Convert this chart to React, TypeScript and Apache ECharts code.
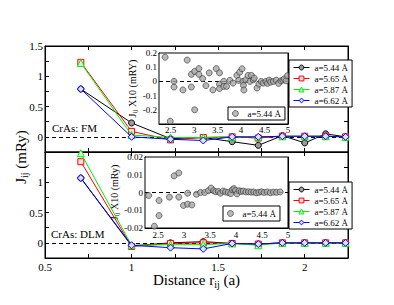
import React, { useEffect, useRef } from "react";
import * as echarts from "echarts";

const FONT = "Liberation Serif, Times New Roman, serif";

// ---- data ----
const distances = [0.707, 1.0, 1.225, 1.414, 1.581, 1.732, 1.871, 2.0, 2.121, 2.236];

const fm544 = [0.79, 0.23, -0.03, -0.01, -0.08, -0.14, 0.02, -0.1, 0.05, 0.0];
const fm565 = [1.23, 0.09, -0.05, -0.01, 0.0, -0.02, 0.01, 0.01, 0.01, 0.0];
const fm587 = [1.22, 0.03, -0.01, -0.01, 0.0, 0.0, 0.01, 0.01, 0.01, 0.0];
const fm662 = [0.79, 0.0, -0.04, -0.06, 0.0, 0.0, 0.01, 0.01, 0.01, 0.0];

const dlm544 = [1.07, -0.05, 0.0, 0.02, -0.01, -0.02, 0.0, 0.0, 0.0, 0.0];
const dlm565 = [1.34, -0.06, -0.01, 0.0, -0.01, -0.02, 0.0, 0.0, 0.0, 0.0];
const dlm587 = [1.48, -0.04, -0.03, -0.03, -0.01, -0.04, 0.0, 0.0, 0.0, 0.0];
const dlm662 = [1.07, -0.04, -0.08, -0.1, -0.01, -0.02, 0.0, 0.0, 0.0, 0.0];

const seriesLabels = ["a=5.44 Å", "a=5.65 Å", "a=5.87 Å", "a=6.62 Å"];
const insetLabel = "a=5.44 Å";

const insFmX = [2.38, 2.49, 2.57, 2.57, 2.76, 2.85, 2.94, 2.94, 3.01, 3.01, 3.1, 3.1, 3.18, 3.25, 3.32, 3.4, 3.47, 3.54, 3.54, 3.54, 3.63, 3.63, 3.69, 3.76, 3.83, 3.91, 3.95, 3.97, 4.02, 4.04, 4.05, 4.06, 4.1, 4.15, 4.19, 4.22, 4.26, 4.28, 4.34, 4.38, 4.43, 4.47, 4.53, 4.56, 4.6, 4.63, 4.69, 4.75, 4.8, 4.85, 4.89, 4.92, 4.96, 4.99];
const insFmY = [0.17, -0.28, 0.0, -0.04, -0.06, 0.15, 0.05, -0.04, 0.07, -0.2, 0.09, 0.05, 0.02, -0.03, 0.06, -0.06, 0.09, 0.06, -0.02, -0.05, 0.0, -0.035, -0.035, 0.007, -0.012, 0.042, 0.007, 0.065, 0.089, 0.0, -0.028, -0.061, 0.011, 0.042, 0.0, 0.042, 0.011, 0.023, -0.047, -0.019, 0.0, -0.012, 0.0, -0.014, 0.009, -0.005, 0.0, 0.009, -0.014, 0.004, 0.009, 0.018, 0.004, 0.04];

const insDlmX = [2.32, 2.43, 2.52, 2.52, 2.72, 2.81, 2.9, 2.9, 2.99, 3.07, 3.07, 3.15, 3.24, 3.32, 3.4, 3.47, 3.52, 3.57, 3.61, 3.66, 3.7, 3.75, 3.8, 3.85, 3.9, 3.93, 3.96, 3.99, 4.02, 4.06, 4.1, 4.14, 4.19, 4.24, 4.29, 4.34, 4.39, 4.44, 4.49, 4.54, 4.6, 4.66, 4.72, 4.78, 4.85];
const insDlmY = [-0.0017, -0.019, -0.0045, -0.013, -0.0026, 0.0094, 0.011, -0.0026, -0.0073, -0.0004, -0.0066, -0.007, -0.001, 0.0, 0.0, 0.001, 0.0025, 0.001, 0.0004, 0.0006, -0.0004, 0.0008, 0.0003, 0.0, -0.0006, 0.0016, 0.0022, 0.0012, -0.0008, 0.001, 0.0006, 0.0008, 0.0003, 0.0004, 0.0002, 0.0003, -0.0002, 0.0001, 0.0004, 0.0, 0.0003, -0.0001, 0.0002, 0.0001, 0.0003];

// ---- styles ----
const strokes = ["#000000", "#ff0000", "#00ee00", "#0000ff"];
const fills = ["#9a9a9a", "#ffe0e0", "#e0ffe0", "#e0e0ff"];
const symbols = ["circle", "rect", "triangle", "diamond"];
const symbolSizes = [6, 6, 7, 7];
const insetFill = "#a8a8a8";
const insetStroke = "#333333";

const isMult = (v: number, s: number) => Math.abs(v / s - Math.round(v / s)) < 1e-6;
const fmt = (v: number) => String(parseFloat(v.toFixed(3)));

function axis(kind: "x" | "y", o: any) {
  return {
    type: "value",
    gridIndex: o.grid,
    min: o.min,
    max: o.max,
    interval: o.interval,
    position: o.position,
    show: o.show === undefined ? true : o.show,
    axisLine: { show: o.line !== false, onZero: false, lineStyle: { color: "#000", width: 1 } },
    axisTick: { show: o.line !== false, inside: true, length: o.tickLen || 4, lineStyle: { color: "#000", width: 1 } },
    minorTick: o.minor
      ? { show: true, splitNumber: o.minor, length: 2, lineStyle: { color: "#000", width: 1 } }
      : { show: false },
    splitLine: { show: false },
    axisLabel: {
      show: !!o.formatter,
      formatter: o.formatter,
      fontSize: o.fontSize || 11,
      fontFamily: FONT,
      color: "#000",
      margin: o.margin === undefined ? 2 : o.margin,
      showMinLabel: true,
      showMaxLabel: true,
      hideOverlap: false,
    },
    name: o.name,
    nameLocation: "middle",
    nameGap: o.nameGap,
    nameRotate: kind === "y" ? 90 : 0,
    nameTextStyle: o.nameStyle,
  };
}

function richName(big: number, small: number, lh: number) {
  return {
    fontFamily: FONT,
    fontSize: big,
    color: "#000",
    rich: {
      a: { fontFamily: FONT, fontSize: big, color: "#000", lineHeight: lh },
      b: { fontFamily: FONT, fontSize: small, color: "#000", verticalAlign: "bottom" },
    },
  };
}

function buildOption() {
  const mainX = (v: number) => (isMult(v, 0.5) ? fmt(v) : "");
  const mainYTop = (v: number) => (isMult(v, 0.5) && v > -1e-9 ? fmt(v) : "");
  const mainYBot = (v: number) => (isMult(v, 0.5) && v > -1e-9 && v < 1.4 ? fmt(v) : "");
  const insX = (v: number) => (isMult(v, 0.5) ? fmt(v) : "");
  const insFmYF = (v: number) => (v < -0.25 ? "" : fmt(v));
  const insDlmYF = (v: number) => fmt(v);

  const mainXR = { min: 0.5, max: 2.25, interval: 0.25 };
  const mainYR = { min: -0.25, max: 1.5, interval: 0.25 };
  const insXR = { min: 2.25, max: 5, interval: 0.25 };
  const insFmYR = { min: -0.3, max: 0.2, interval: 0.1 };
  const insDlmYR = { min: -0.02, max: 0.02, interval: 0.01 };

  const grids = [
    { left: 45, top: 46, width: 303, height: 106 },
    { left: 45, top: 152, width: 303, height: 106 },
    { left: 159, top: 53, width: 129, height: 71 },
    { left: 145, top: 157, width: 143, height: 71 },
    { left: 45, top: 56, width: 10, height: 202 },
  ].map((g, i) => ({
    ...g,
    show: i < 4,
    borderColor: "#000",
    borderWidth: 1,
    backgroundColor: i < 4 ? "#fff" : "transparent",
    containLabel: false,
    outerBoundsMode: "none",
    z: i >= 2 ? 5 : 0,
  }));

  const xAxis = [
    axis("x", { grid: 0, ...mainXR, position: "bottom" }),
    axis("x", { grid: 0, ...mainXR, position: "top" }),
    axis("x", {
      grid: 1, ...mainXR, position: "bottom", formatter: mainX, margin: 3,
      name: "{a|Distance r}{b|ij}{a| (a)}", nameGap: 12, nameStyle: richName(15, 10, 18),
    }),
    axis("x", { grid: 1, ...mainXR, position: "top" }),
    axis("x", { grid: 2, ...insXR, position: "bottom", formatter: insX, fontSize: 9, tickLen: 3, margin: 1 }),
    axis("x", { grid: 2, ...insXR, position: "top", tickLen: 3 }),
    axis("x", { grid: 3, ...insXR, position: "bottom", formatter: insX, fontSize: 9, tickLen: 3, margin: 2 }),
    axis("x", { grid: 3, ...insXR, position: "top", tickLen: 3 }),
    axis("x", { grid: 4, min: 0, max: 1, show: false }),
  ];
  const yAxis = [
    axis("y", { grid: 0, ...mainYR, position: "left", formatter: mainYTop }),
    axis("y", { grid: 0, ...mainYR, position: "right" }),
    axis("y", { grid: 1, ...mainYR, position: "left", formatter: mainYBot }),
    axis("y", { grid: 1, ...mainYR, position: "right" }),
    axis("y", {
      grid: 2, ...insFmYR, position: "left", formatter: insFmYF, fontSize: 9, tickLen: 3, minor: 2,
      name: "{a|J}{b|ij}{a| X10 (mRY)}", nameGap: 17, nameStyle: richName(10, 7, 12),
    }),
    axis("y", { grid: 2, ...insFmYR, position: "right", tickLen: 3, minor: 2 }),
    axis("y", {
      grid: 3, ...insDlmYR, position: "left", formatter: insDlmYF, fontSize: 9, tickLen: 3, minor: 2,
      name: "{a|J}{b|ij}{a| X10 (mRy)}", nameGap: 9, nameStyle: richName(10, 7, 12),
    }),
    axis("y", { grid: 3, ...insDlmYR, position: "right", tickLen: 3, minor: 2 }),
    axis("y", {
      grid: 4, min: 0, max: 1, position: "left", line: false,
      name: "{a|J}{b|ij}{a| (mRy)}", nameGap: 16, nameStyle: richName(15, 10, 17),
    }),
  ];

  const zeroLine = (z: number) => ({
    silent: true,
    symbol: ["none", "none"],
    label: { show: false },
    lineStyle: { color: "#000", type: [4, 3], width: 1 },
    data: [{ yAxis: 0 }],
    z,
  });

  const series: any[] = [];
  const fmSets = [fm544, fm565, fm587, fm662];
  const dlmSets = [dlm544, dlm565, dlm587, dlm662];
  const nameMap: Record<string, string> = { insFM: insetLabel, insDLM: insetLabel };
  [fmSets, dlmSets].forEach((sets, panel) => {
    sets.forEach((arr, i) => {
      const name = (panel === 0 ? "fm" : "dlm") + i;
      nameMap[name] = seriesLabels[i];
      series.push({
        type: "line",
        name,
        xAxisIndex: panel * 2,
        yAxisIndex: panel * 2,
        data: distances.map((x, k) => [x, arr[k]]),
        symbol: symbols[i],
        symbolSize: symbolSizes[i],
        showSymbol: true,
        showAllSymbol: true,
        clip: false,
        z: 3 + i,
        lineStyle: { color: strokes[i], width: 1 },
        itemStyle: { color: fills[i], borderColor: strokes[i], borderWidth: 1 },
        emphasis: { disabled: true },
        markLine: i === 0 ? zeroLine(2) : undefined,
      });
    });
  });
  const insetItemStyle = { color: insetFill, borderColor: insetStroke, borderWidth: 0.8 };
  series.push({
    type: "scatter",
    name: "insFM",
    xAxisIndex: 4,
    yAxisIndex: 4,
    data: insFmX.map((x, k) => [x, insFmY[k]]),
    symbol: "circle",
    symbolSize: 6,
    z: 8,
    itemStyle: insetItemStyle,
    emphasis: { disabled: true },
    markLine: zeroLine(7),
  });
  series.push({
    type: "scatter",
    name: "insDLM",
    xAxisIndex: 6,
    yAxisIndex: 6,
    data: insDlmX.map((x, k) => [x, insDlmY[k]]),
    symbol: "circle",
    symbolSize: 6,
    z: 8,
    itemStyle: insetItemStyle,
    emphasis: { disabled: true },
    markLine: zeroLine(7),
  });

  const legendBase = {
    orient: "vertical",
    selectedMode: false,
    backgroundColor: "#fff",
    borderColor: "#000",
    borderWidth: 1,
    borderRadius: 0,
    textStyle: { fontFamily: FONT, fontSize: 9, color: "#000" },
    formatter: (n: string) => nameMap[n],
    itemGap: 2,
    itemWidth: 16,
    itemHeight: 6,
    z: 10,
  };
  const mainLegendData = (prefix: string) =>
    [0, 1, 2, 3].map((i) => ({
      name: prefix + i,
      itemStyle: { color: fills[i], borderColor: strokes[i], borderWidth: 1 },
      lineStyle: { color: strokes[i], width: 1 },
    }));
  const insetLegendData = (name: string) => [
    { name, icon: "circle", itemStyle: { color: insetFill, borderColor: insetStroke, borderWidth: 0.8 } },
  ];

  return {
    animation: false,
    backgroundColor: "#fff",
    textStyle: { fontFamily: FONT },
    grid: grids,
    xAxis,
    yAxis,
    series,
    legend: [
      { ...legendBase, data: mainLegendData("fm"), left: 289, top: 60, padding: [3, 4, 2, 4] },
      { ...legendBase, data: mainLegendData("dlm"), left: 289, top: 182, padding: [3, 4, 2, 4] },
      { ...legendBase, data: insetLegendData("insFM"), left: 228, top: 107, padding: [2, 4, 2, 4], itemWidth: 14, itemHeight: 6 },
      { ...legendBase, data: insetLegendData("insDLM"), left: 223, top: 206, padding: [3, 4, 3, 4], itemWidth: 14, itemHeight: 6 },
    ],
    graphic: [
      {
        type: "text", left: 52, top: 122, z: 20,
        style: { text: "CrAs: FM", fontSize: 11, fontFamily: FONT, fill: "#000" },
      },
      {
        type: "text", left: 51, top: 228, z: 20,
        style: { text: "CrAs: DLM", fontSize: 11, fontFamily: FONT, fill: "#000" },
      },
    ],
  };
}

export default function App() {
  const ref = useRef<HTMLDivElement>(null);
  useEffect(() => {
    if (!ref.current) return;
    const chart = echarts.init(ref.current, null, { renderer: "svg" });
    chart.setOption(buildOption() as any);
    return () => chart.dispose();
  }, []);
  return (
    <div
      ref={ref}
      style={{ position: "absolute", left: 0, top: 0, width: 394, height: 305, background: "#fff" }}
    />
  );
}
